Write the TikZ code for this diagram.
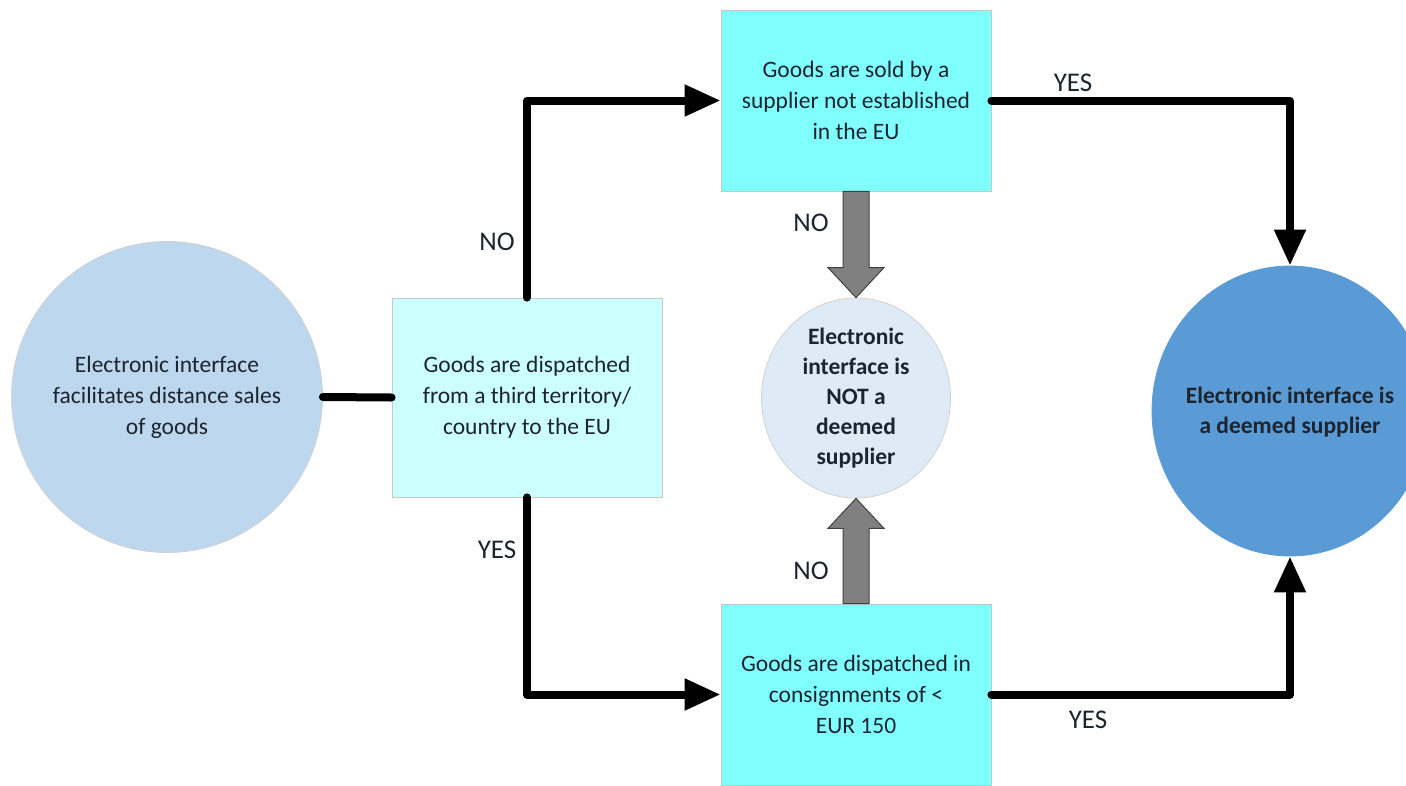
\documentclass[tikz,border=0pt]{standalone}
\usepackage{fontspec}
\setmainfont{Carlito}
\usetikzlibrary{shapes.geometric,arrows.meta,calc}
\definecolor{cleft}{HTML}{BDD7EE}
\definecolor{cbox}{HTML}{CCFFFF}
\definecolor{cbox2}{HTML}{80FFFF}
\definecolor{cmid}{HTML}{DEEBF7}
\definecolor{cright}{HTML}{5B9BD5}
\definecolor{cgrey}{HTML}{808080}
\definecolor{ctext}{HTML}{1C2430}
\tikzset{
  x=1pt,y=1pt,
  every node/.style={text=ctext},
  boxnode/.style={rectangle, draw=black!22, line width=0.8pt, minimum width=270pt, align=center, font=\fontsize{23.5}{31}\selectfont, inner sep=0pt},
  bignode/.style={ellipse, draw=black!18, line width=0.8pt, inner sep=0pt},
  intext/.style={align=center, text=ctext},
  conn/.style={line width=8pt, line cap=round, line join=round, -{Triangle[length=36pt,width=30pt]}},
  plain/.style={line width=8pt, line cap=round},
  lbl/.style={font=\fontsize{27}{30}\selectfont},
  blockarrow/.style={fill=cgrey, draw=black!75, line width=1pt, line join=miter}
}
\begin{document}
\begin{tikzpicture}
\useasboundingbox (0,0) rectangle (1406,-785);
\clip (0,0) rectangle (1406,-785);
\fill[white] (0,0) rectangle (1406,-785);

\node[bignode, fill=cleft, minimum width=311pt, minimum height=311pt,
  label={[intext, font=\fontsize{23.5}{31}\selectfont]center:Electronic interface\\facilitates distance sales\\of goods}] (c1) at (167,-397) {};
\node[boxnode, fill=cbox, minimum height=199pt] (b1) at (527,-397.5) {Goods are dispatched\\from a third territory/\\country to the EU};
\node[boxnode, fill=cbox2, minimum height=181pt] (b2) at (856,-100.5) {Goods are sold by a\\supplier not established\\in the EU};
\node[boxnode, fill=cbox2, minimum height=181pt] (b3) at (856,-694.5) {Goods are dispatched in\\consignments of <\\EUR 150};
\node[bignode, fill=cmid, minimum width=189pt, minimum height=200pt,
  label={[intext, font=\bfseries\fontsize{23.5}{30}\selectfont]center:Electronic\\interface is\\NOT a\\deemed\\supplier}] (c2) at (856,-398) {};
\node[bignode, fill=cright, draw=cright, minimum width=276pt, minimum height=290pt,
  label={[intext, font=\bfseries\fontsize{23.5}{30}\selectfont, yshift=-1pt]center:Electronic interface is\\a deemed supplier}] (c3) at (1290,-411) {};

\draw[plain] (c1.east) -- (b1.west);
\draw[conn] (b1.north) |- (b2.west);
\draw[conn] (b1.south) |- (b3.west);
\draw[conn] (b2.east) -| (c3.north);
\draw[conn] (b3.east) -| (c3.south);

% grey block arrows
\draw[blockarrow] ($(b2.south)+(-13,0)$) -- ($(c2.north)+(-13,30)$) -- ($(c2.north)+(-28,30)$) -- (c2.north) -- ($(c2.north)+(28,30)$) -- ($(c2.north)+(13,30)$) -- ($(b2.south)+(13,0)$) -- cycle;
\draw[blockarrow] ($(b3.north)+(-13,0)$) -- ($(c2.south)+(-13,-30)$) -- ($(c2.south)+(-28,-30)$) -- (c2.south) -- ($(c2.south)+(28,-30)$) -- ($(c2.south)+(13,-30)$) -- ($(b3.north)+(13,0)$) -- cycle;

\node[lbl] (l1) at (497,-242) {NO};
\node[lbl] (l2) at (497,-550) {YES};
\node[lbl] (l3) at (811,-223) {NO};
\node[lbl] (l4) at (811,-571) {NO};
\node[lbl] (l5) at (1073,-83) {YES};
\node[lbl] (l6) at (1088,-720) {YES};
\end{tikzpicture}
\end{document}
